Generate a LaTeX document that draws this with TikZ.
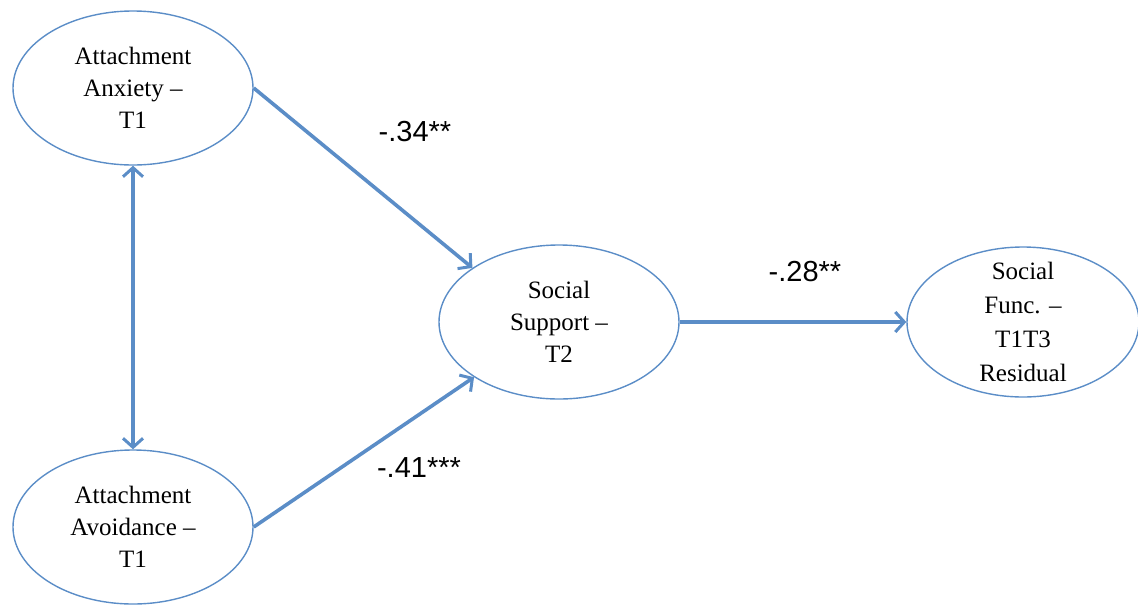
\documentclass[tikz,border=0pt]{standalone}
\usepackage{fontspec}
\setmainfont{Liberation Serif}
\newfontfamily\lblfont{Liberation Sans}
\usetikzlibrary{arrows.meta, shapes.geometric}
\definecolor{lien}{RGB}{91, 141, 199}

\begin{document}
\begin{tikzpicture}[x=1pt, y=-1pt,
		var/.style={draw=lien, line width=1.4pt, ellipse, minimum width=240pt, minimum height=154pt,
			inner sep=0pt, align=center, font=\fontsize{25}{32}\selectfont},
		fleche/.style={draw=lien, line width=3.6pt, -{Straight Barb[length=9pt, width=20pt, line width=3pt]}},
		coef/.style={font=\lblfont\fontsize{29}{32}\selectfont}]
			\useasboundingbox (0,0) rectangle (1138,606);

			% variables
			\node[var] (anx) at (133,88) {Attachment\\Anxiety –\\T1};
			\node[var] (avo) at (133,527) {Attachment\\Avoidance –\\T1};
			\node[var] (sup) at (559,322) {Social\\Support –\\T2};
			\node[var, minimum width=232pt, minimum height=150pt, inner sep=-14pt,
				font=\fontsize{25}{34}\selectfont] (fun) at (1023,322) {Social\\Func. –\\T1T3\\Residual};

			% fleches
			\draw[fleche] (anx.east) -- (sup.148);
			\draw[fleche] (avo.east) -- (sup.213);
			\draw[fleche] (sup.east) -- (fun.west);
			\draw[fleche, {Straight Barb[length=9pt, width=20pt, line width=3pt]}-{Straight Barb[length=9pt, width=20pt, line width=3pt]}] (anx.south) -- (avo.north);

			% coefficients
			\node[coef] (c1) at (415,132) {-.34**};
			\node[coef] (c2) at (805,272) {-.28**};
			\node[coef] (c3) at (419,468) {-.41***};
		\end{tikzpicture}
\end{document}
